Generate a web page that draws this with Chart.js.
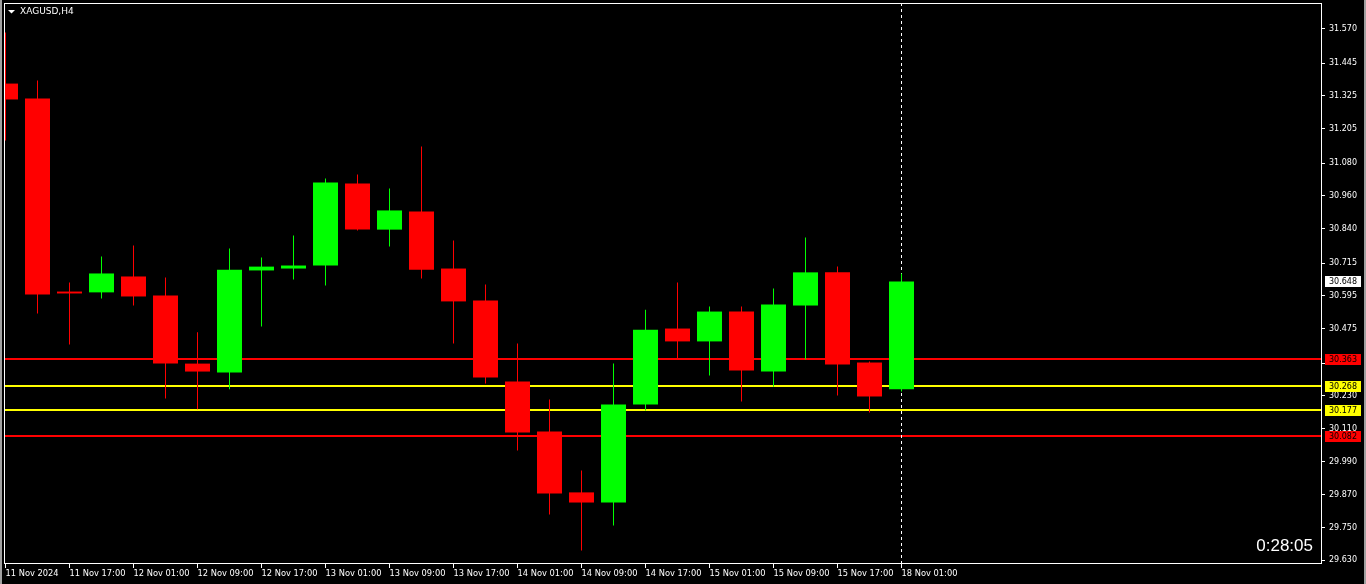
<!DOCTYPE html>
<html>
<head>
<meta charset="utf-8">
<title>XAGUSD,H4</title>
<script src="https://cdn.jsdelivr.net/npm/chart.js@4.4.1/dist/chart.umd.min.js"></script>
<style>
    html, body { margin: 0; padding: 0; background: #000; overflow: hidden; }
    #wrap { width: 1366px; height: 584px; }
</style>
</head>
<body>
<div id="wrap"><canvas id="chart" width="1366" height="584"></canvas></div>
<script>
// H4 bars from 11 Nov 09:00 to 18 Nov 01:00 (index = bar number)
const opens  = [31.370, 31.316, 30.611, 30.608, 30.666, 30.597, 30.348, 30.316, 30.688, 30.695,
                30.706, 31.005, 30.837, 30.903, 30.695, 30.578, 30.283, 30.100, 29.878, 29.841,
                30.199, 30.476, 30.429, 30.538, 30.319, 30.560, 30.681, 30.352, 30.254];
const highs  = [31.556, 31.381, 30.644, 30.739, 30.779, 30.662, 30.462, 30.768, 30.735, 30.816,
                31.024, 31.038, 30.987, 31.140, 30.797, 30.637, 30.421, 30.217, 29.958, 30.348,
                30.545, 30.644, 30.556, 30.556, 30.622, 30.808, 30.702, 30.356, 30.677];
const lows   = [31.162, 30.531, 30.418, 30.586, 30.560, 30.221, 30.181, 30.254, 30.483, 30.655,
                30.633, 30.834, 30.775, 30.659, 30.421, 30.275, 30.031, 29.797, 29.666, 29.757,
                30.177, 30.367, 30.305, 30.210, 30.264, 30.363, 30.232, 30.170, 30.246];
const closes = [31.312, 30.600, 30.604, 30.677, 30.593, 30.348, 30.319, 30.691, 30.702, 30.706,
                31.009, 30.837, 30.907, 30.691, 30.575, 30.297, 30.097, 29.874, 29.841, 30.199,
                30.472, 30.429, 30.538, 30.323, 30.564, 30.681, 30.345, 30.228, 30.648];

// time axis labels, one every second bar
const timeTickBars = [0, 2, 4, 6, 8, 10, 12, 14, 16, 18, 20, 22, 24, 26, 28];
const timeLabels = ['11 Nov 2024', '11 Nov 17:00', '12 Nov 01:00', '12 Nov 09:00', '12 Nov 17:00',
                    '13 Nov 01:00', '13 Nov 09:00', '13 Nov 17:00', '14 Nov 01:00', '14 Nov 09:00',
                    '14 Nov 17:00', '15 Nov 01:00', '15 Nov 09:00', '15 Nov 17:00', '18 Nov 01:00'];
const priceTicks = [31.570, 31.445, 31.325, 31.205, 31.080, 30.960, 30.840, 30.715, 30.595,
                    30.475, 30.350, 30.230, 30.110, 29.990, 29.870, 29.750, 29.630];

const redLevels = [30.363, 30.082];
const yellowLevels = [30.268, 30.177];
const lastPrice = 30.648;
const symbolTitle = 'XAGUSD,H4';
const timerText = '0:28:05';

const UP = '#00ff00';
const DOWN = '#ff0000';

const bodies = opens.map((o, i) => ({ x: i, y: [o, closes[i]] }));
const wicks = lows.map((l, i) => ({ x: i, y: [l, highs[i]] }));
const barColors = opens.map((o, i) => closes[i] >= o ? UP : DOWN);

// drawing bits that MT4 puts around the candles
const terminalLook = {
    id: 'terminalLook',
    beforeDraw(chart) {
        const c = chart.ctx;
        c.save();
        c.fillStyle = '#000';
        c.fillRect(0, 0, chart.width, chart.height);
        c.fillStyle = '#a0a0a0';
        c.fillRect(0, 0, 2, chart.height);
        c.fillRect(chart.width - 2, 0, 2, chart.height);
        c.restore();
    },
    beforeDatasetsDraw(chart) {
        const { ctx: c, chartArea: a, scales: { x, y } } = chart;
        c.save();
        const level = (v, col) => {
            const py = Math.round(y.getPixelForValue(v));
            c.fillStyle = col;
            c.fillRect(a.left, py - 1, a.right - a.left, 2);
        };
        redLevels.forEach(v => level(v, DOWN));
        yellowLevels.forEach(v => level(v, '#ffff00'));

        // dashed separator on the current bar
        const px = Math.floor(x.getPixelForValue(closes.length - 1)) + 0.5;
        c.strokeStyle = '#fff';
        c.lineWidth = 1;
        c.setLineDash([3, 3]);
        c.beginPath();
        c.moveTo(px, a.top);
        c.lineTo(px, a.bottom + 4);
        c.stroke();
        c.restore();
    },
    afterDraw(chart) {
        const { ctx: c, chartArea: a, scales: { y } } = chart;
        c.save();
        // frame
        c.strokeStyle = '#fff';
        c.lineWidth = 1;
        c.strokeRect(a.left + 0.5, a.top + 0.5, a.right - a.left - 1, a.bottom - a.top - 1);

        // price boxes on the scale
        c.font = '8px "DejaVu Sans"';
        c.textBaseline = 'middle';
        c.textAlign = 'left';
        const box = (v, bg) => {
            const py = Math.round(y.getPixelForValue(v));
            c.fillStyle = bg;
            c.fillRect(a.right + 3, py - 5, 36, 11);
            c.fillStyle = '#000';
            c.fillText(v.toFixed(3), a.right + 7, py + 0.5);
        };
        redLevels.forEach(v => box(v, DOWN));
        yellowLevels.forEach(v => box(v, '#ffff00'));
        box(lastPrice, '#fff');

        // symbol title with the little menu triangle
        c.fillStyle = '#fff';
        c.beginPath();
        c.moveTo(8, 10);
        c.lineTo(15, 10);
        c.lineTo(11.5, 13.5);
        c.closePath();
        c.fill();
        c.font = '9px "DejaVu Sans"';
        c.fillText(symbolTitle, 20, 12);

        // bar countdown
        c.font = '17px "Liberation Sans"';
        c.textAlign = 'right';
        c.textBaseline = 'alphabetic';
        c.fillText(timerText, 1313, 551);
        c.restore();
    }
};

const xMin = -1.5 / 32;
const xMax = xMin + 1318 / 32;
const yMax = 30.363 + 356.5 / 274;
const yMin = yMax - 561 / 274;

const ctx = document.getElementById('chart');
new Chart(ctx, {
    type: 'bar',
    data: {
        datasets: [{
            label: 'body',
            data: bodies,
            backgroundColor: barColors,
            grouped: false,
            barThickness: 25,
            maxBarThickness: 25,
            borderWidth: 0,
            inflateAmount: 0,
            clip: 0,
            order: 1
        }, {
            label: 'wick',
            data: wicks,
            backgroundColor: barColors,
            grouped: false,
            barThickness: 1,
            maxBarThickness: 1,
            borderWidth: 0,
            inflateAmount: 0,
            clip: 0,
            order: 2
        }]
    },
    options: {
        responsive: false,
        animation: false,
        events: [],
        layout: { padding: { left: 4, top: 3, right: 0, bottom: 0 } },
        plugins: {
            legend: { display: false },
            tooltip: { enabled: false }
        },
        scales: {
            x: {
                type: 'linear',
                position: 'bottom',
                offset: false,
                min: xMin,
                max: xMax,
                afterBuildTicks: s => { s.ticks = timeTickBars.map(v => ({ value: v })); },
                afterFit: s => { s.height = 20; s.paddingLeft = 0; s.paddingRight = 0; },
                ticks: {
                    autoSkip: false,
                    maxRotation: 0,
                    minRotation: 0,
                    align: 'start',
                    padding: 1,
                    color: '#fff',
                    font: { family: 'DejaVu Sans', size: 8.3 },
                    callback: (v, i) => timeLabels[i]
                },
                grid: { offset: false, drawOnChartArea: false, tickLength: 4, color: '#fff' },
                border: { display: false }
            },
            y: {
                type: 'linear',
                position: 'right',
                min: yMin,
                max: yMax,
                afterBuildTicks: s => { s.ticks = priceTicks.map(v => ({ value: v })); },
                afterFit: s => { s.width = 44; s.paddingTop = 0; s.paddingBottom = 0; },
                ticks: {
                    autoSkip: false,
                    padding: 4,
                    color: '#fff',
                    font: { family: 'DejaVu Sans', size: 8 },
                    callback: v => v.toFixed(3)
                },
                grid: { drawOnChartArea: false, tickLength: 3, color: '#fff' },
                border: { display: false }
            }
        }
    },
    plugins: [terminalLook]
});
</script>
</body>
</html>
